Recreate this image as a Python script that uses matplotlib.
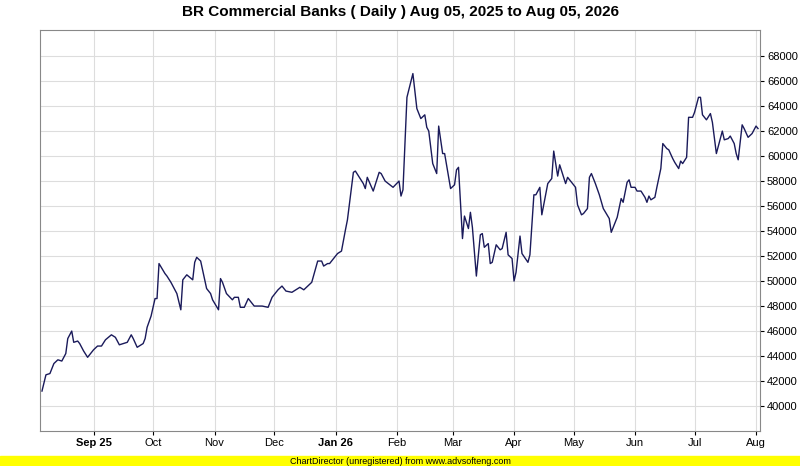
import matplotlib
matplotlib.use("Agg")
import matplotlib.pyplot as plt
import matplotlib.dates as mdates
import numpy as np
import datetime as dt

plt.rcParams['font.family'] = ['Liberation Sans', 'DejaVu Sans']

start = dt.date(2025, 8, 5)
day_offsets = [1,3,5,7,9,11,13,14,16,17,19,20,22,24,27,29,31,33,36,38,40,44,46,47,49,52,53,54,56,58,59,60,
               63,64,66,69,71,72,74,77,78,79,81,84,86,87,90,91,92,94,97,98,100,101,103,105,108,112,115,117,120,
               122,124,127,131,133,137,140,142,143,145,146,150,152,154,155,158,159,163,164,165,168,171,172,174,
               178,181,182,183,185,188,190,192,194,195,196,198,200,201,203,204,207,209,210,211,213,214,216,217,
               218,220,222,223,224,226,227,228,230,232,233,235,236,238,239,240,242,243,246,247,249,250,252,253,
               256,258,259,261,262,265,266,270,271,273,274,276,277,278,280,282,284,287,288,291,293,294,296,297,
               298,300,301,303,305,306,307,308,310,311,313,314,316,317,319,320,322,323,324,326,327,329,330,332,
               333,334,336,338,339,341,344,345,347,348,350,351,352,354,355,357,359,361,362]
values = [41200,42500,42600,43400,43700,43600,44200,45400,46000,45100,45200,45000,44400,43900,44500,44800,44800,
          45300,45700,45500,44900,45100,45700,45400,44700,45000,45400,46300,47200,48600,48600,51400,
          50600,50400,49900,49000,47700,50100,50500,50100,51500,51900,51600,49400,49000,48500,47700,50200,
          49900,49000,48500,48700,48700,47900,47900,48600,48000,48000,47900,48700,49300,
          49600,49200,49100,49500,49300,49900,51600,51600,51200,51400,51400,52200,52400,54100,54900,58700,
          58800,57800,57400,58300,57200,58700,58600,58000,
          57500,58000,56800,57300,64700,66600,63800,63000,63300,62300,62000,59400,58600,62400,60200,60200,
          57400,57700,58900,59100,53400,55200,54200,55500,
          54300,50400,53700,53800,52700,53000,51400,51500,52900,52500,52600,53900,52100,51800,50000,50700,
          53600,52200,51500,52100,56900,56900,57500,55300,
          57800,58200,60400,58400,59300,57800,58300,57500,56100,55300,55400,55800,58300,58600,57800,56900,
          55800,55000,53900,55100,56600,56300,57900,58100,
          57500,57500,57200,57200,56700,56300,56800,56500,56700,57500,59000,61000,60600,60500,59800,59500,
          59000,59600,59400,59900,63100,63100,63500,64700,
          64700,63300,62900,63400,62700,60200,62000,61300,61400,61600,61000,60200,59700,62500,62200,61500,
          61800,62400,62200]
month_labels = ["Sep 25", "Oct", "Nov", "Dec", "Jan 26", "Feb", "Mar", "Apr", "May", "Jun", "Jul", "Aug"]
title = "BR Commercial Banks ( Daily ) Aug 05, 2025 to Aug 05, 2026"

dates = [start + dt.timedelta(days=d) for d in day_offsets]

fig = plt.figure(figsize=(8, 4.66), dpi=100)
ax = fig.add_axes([0.05, 0.075, 0.90, 0.861])
ax.plot(dates, values, color='#1a1a5a', lw=1.0)
ax.set_xlim(start, start + dt.timedelta(days=363.5))
ax.set_ylim(38000, 70100)
ax.set_yticks(np.arange(40000, 68001, 2000))
ax.yaxis.tick_right()
ax.tick_params(axis='y', labelsize=8, length=3, pad=2)
ticks = [dt.date(2025, m, 1) for m in range(9, 13)] + [dt.date(2026, m, 1) for m in range(1, 9)]
ax.set_xticks(ticks)
ax.set_xticklabels(month_labels, fontsize=8)
for lbl, t in zip(ax.get_xticklabels(), month_labels):
    if ' ' in t:
        lbl.set_fontweight('bold')
ax.tick_params(axis='x', length=3, pad=2)
ax.grid(True, color='#dddddd', lw=0.8)
ax.set_axisbelow(True)
for s in ax.spines.values():
    s.set_color('#888888')
fig.text(0.5, 0.975, title, ha='center', va='center', fontsize=11, fontweight='bold')
fig.patches.append(plt.Rectangle((0, 0), 1, 10/466, transform=fig.transFigure, color='#ffff00', zorder=0))
fig.text(0.5, 5/466, "ChartDirector (unregistered) from www.advsofteng.com", ha='center', va='center', fontsize=6.5)
fig.savefig("out.png", dpi=100)
